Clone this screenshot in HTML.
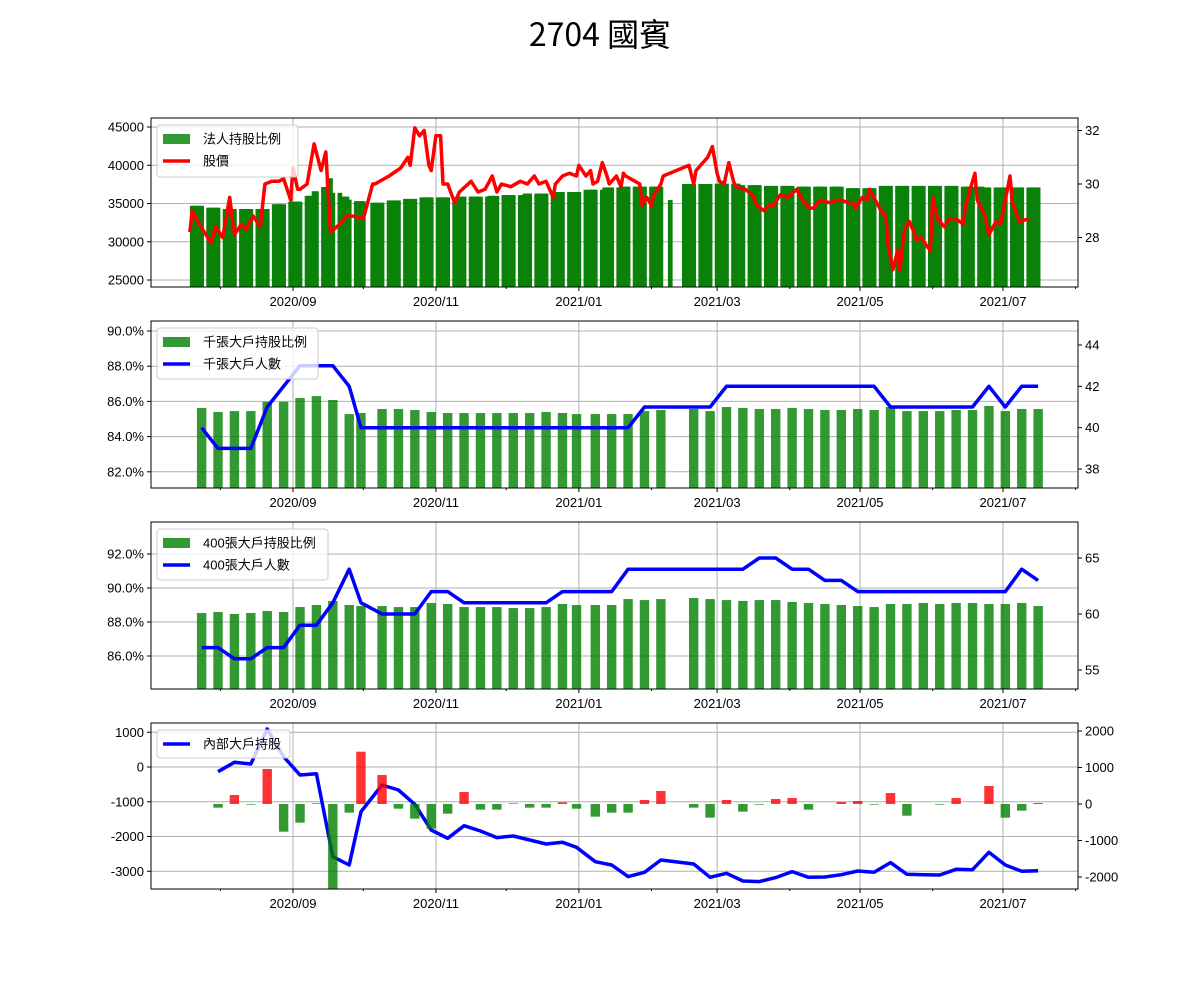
<!DOCTYPE html>
<html><head><meta charset="utf-8"><style>
html,body{margin:0;padding:0;background:#fff;}
svg{display:block;font-family:"Liberation Sans","Noto Sans CJK TC",sans-serif;}
</style></head><body>
<svg id="chart" width="1200" height="1000" viewBox="0 0 1200 1000" xmlns="http://www.w3.org/2000/svg">
<rect width="1200" height="1000" fill="#fff"/>
<text x="600" y="46" text-anchor="middle" font-size="32" font-family="'Noto Sans CJK TC',sans-serif" fill="#000">2704 國賓</text>
</svg>
<script>
// ---- data (days since 2020-09-01) ----
const priceDays=[-44,-43,-40,-35,-33,-30,-27,-25,-22,-20,-17,-14,-12,-9,-6,-4,-1,0,2,3,6,9,12,14,16,20,23,26,30,34,35,41,46,49,50,52,54,56,58,59,61,63,64,66,69,71,76,79,82,85,87,89,93,97,100,103,105,108,111,112,115,118,121,122,125,127,128,130,132,134,135,138,140,141,142,146,148,149,151,153,154,157,158,169,171,172,176,177,179,181,182,184,186,188,189,193,196,198,201,203,205,208,211,215,218,219,220,222,225,229,233,234,237,239,240,243,245,246,251,253,254,256,258,259,260,261,263,265,266,268,272,273,275,278,280,283,286,287,289,291,292,295,297,300,302,306,307,310,314,317];
const priceVals=[28.2,29.0,28.5,27.8,28.4,28.0,29.5,28.1,28.5,28.3,28.8,28.4,30.0,30.1,30.1,30.2,29.4,30.6,29.8,29.8,30.0,31.5,30.5,31.2,28.2,28.5,28.8,28.8,28.7,30.0,30.0,30.3,30.6,31.0,30.7,32.1,31.8,32.0,30.7,30.5,31.8,31.8,30.0,30.0,29.3,29.7,30.1,29.7,29.8,30.3,29.7,30.0,29.9,30.1,30.0,30.3,30.0,30.1,29.5,30.0,30.3,30.4,30.3,30.7,30.3,30.5,30.0,30.1,30.8,30.3,30.0,30.3,29.9,30.4,30.3,30.1,30.0,29.2,29.5,29.2,29.6,30.0,30.3,30.7,30.0,30.5,30.9,31.0,31.4,30.4,30.1,30.0,30.8,30.1,29.9,29.8,29.6,29.2,29.0,29.2,29.2,29.6,29.5,29.8,29.3,29.3,29.1,29.1,29.4,29.3,29.4,29.4,29.3,29.3,29.1,29.5,29.4,29.8,29.0,28.8,27.7,26.8,27.5,26.8,27.6,28.3,28.6,28.2,27.9,28.0,27.5,29.5,28.7,28.4,28.7,28.7,28.5,29.2,29.8,30.4,29.4,28.9,28.1,28.6,28.5,30.3,29.3,28.6,28.7];
const instDays=[-44,-38,-31,-9,-3,4,9,13,15,17,21,24,26,32,40,47,53,71,84,90,99,110,123,133,140,161,167,181,191,200,215,236,250,285,295];
const instVals=[34700,34450,34280,34900,35240,36000,36600,37150,38300,36400,35900,35500,35300,35100,35400,35600,35800,35900,36000,36100,36300,36500,36800,37100,37200,35450,37550,37600,37400,37300,37200,37000,37300,37200,37100];
const instEndDay=318;
const instGapDays=[31,159,160,162,163,164,165,166];
const weekDays=[-39,-32,-25,-18,-11,-4,3,10,17,24,29,38,45,52,59,66,73,80,87,94,101,108,115,121,129,136,143,150,157,171,178,185,192,199,206,213,220,227,234,241,248,255,262,269,276,283,290,297,304,311,318];
const bigPct=[85.63,85.4,85.45,85.45,85.98,85.98,86.19,86.3,86.08,85.28,85.34,85.57,85.57,85.51,85.4,85.34,85.34,85.34,85.34,85.34,85.34,85.4,85.34,85.28,85.28,85.28,85.28,85.45,85.51,85.57,85.45,85.68,85.63,85.57,85.57,85.63,85.57,85.51,85.51,85.57,85.51,85.68,85.45,85.45,85.45,85.51,85.51,85.74,85.45,85.57,85.57];
const bigCount=[40,39,39,39,41,42,43,43,43,42,40,40,40,40,40,40,40,40,40,40,40,40,40,40,40,40,40,41,41,41,41,42,42,42,42,42,42,42,42,42,42,41,41,41,41,41,41,42,41,42,42];
const midPct=[88.53,88.59,88.47,88.53,88.65,88.59,88.88,89.0,89.24,89.0,88.94,88.94,88.88,88.88,89.12,89.06,88.88,88.88,88.88,88.82,88.82,88.88,89.06,89.0,89.0,89.0,89.35,89.29,89.35,89.41,89.35,89.29,89.24,89.29,89.29,89.18,89.12,89.06,89.0,88.94,88.88,89.06,89.06,89.12,89.06,89.12,89.12,89.06,89.06,89.12,88.94];
const midCount=[57,57,56,56,57,57,59,59,61,64,61,60,60,60,62,62,61,61,61,61,61,61,62,62,62,62,64,64,64,64,64,64,64,65,65,64,64,63,63,62,62,62,62,62,62,62,62,62,62,64,63];
const insideTotal=[-134,134,86,1093,297,-230,-192,-2580,-2820,-1285,-518,-662,-1074,-1813,-2052,-1688,-1841,-2033,-1985,-2100,-2215,-2167,-2311,-2724,-2820,-3155,-3030,-2676,-2790,-3174,-3059,-3280,-3299,-3184,-3011,-3174,-3165,-3098,-2992,-3030,-2752,-3088,-3098,-3107,-2944,-2954,-2455,-2820,-3002,-2983];
const insideChange=[-100,247,-18,959,-758,-511,18,-2600,-237,1433,794,-128,-402,-676,-265,329,-155,-155,18,-100,-100,46,-128,-347,-237,-237,110,356,-100,-374,110,-210,-18,137,164,-155,0,55,82,-18,301,-320,0,-18,164,0,493,-374,-183,27];
const xTickDays=[0,61,122,181,242,303];
const xTickLabels=["2020/09","2020/11","2021/01","2021/03","2021/05","2021/07"];
const xMinorDays=[-31,30,91,153,212,273,334];
const p1LeftTicks=[25000,30000,35000,40000,45000];
const p1RightTicks=[28,30,32];
const p2LeftTicks=[82,84,86,88,90];
const p2RightTicks=[38,40,42,44];
const p3LeftTicks=[86,88,90,92];
const p3RightTicks=[55,60,65];
const p4LeftTicks=[-3000,-2000,-1000,0,1000];
const p4RightTicks=[-2000,-1000,0,1000,2000];

// ---- scales ----
const X0=151,X1=1078;
function xs(d){return 293+d*2.3432;}
const panels=[
 {top:118,bot:287,yl:v=>127+(45000-v)*0.00765,yr:v=>184-(v-30)*26.75},
 {top:321,bot:488,yl:v=>331+(90-v)*17.6,yr:v=>345+(44-v)*20.67},
 {top:522,bot:689,yl:v=>554+(92-v)*17,yr:v=>558+(65-v)*11.2},
 {top:723,bot:889,yl:v=>767-v*0.03475,yr:v=>804-v*0.0365}
];
const NS="http://www.w3.org/2000/svg";
const svg=document.getElementById('chart');
function mk(tag,attrs,parent){const e=document.createElementNS(NS,tag);for(const k in attrs)e.setAttribute(k,attrs[k]);(parent||svg).appendChild(e);return e;}

const defs=mk('defs',{});
panels.forEach((p,i)=>{const c=mk('clipPath',{id:'clip'+i},defs);mk('rect',{x:X0,y:p.top,width:X1-X0,height:p.bot-p.top},c);});

function drawFrame(i,leftTicks){
 const p=panels[i];
 const g=mk('g',{});
 
 
 xTickDays.forEach(d=>{mk('line',{x1:xs(d),x2:xs(d),y1:p.top,y2:p.bot,stroke:'#b0b0b0','stroke-width':1},g);});
 leftTicks.forEach(v=>{const y=p.yl(v);mk('line',{x1:X0,x2:X1,y1:y,y2:y,stroke:'#b0b0b0','stroke-width':1},g);});
 return g;
}
function drawAxes(i,leftTicks,leftFmt,rightTicks,rightFmt){
 const p=panels[i];
 const g=mk('g',{});
 
 
 mk('rect',{x:X0,y:p.top,width:X1-X0,height:p.bot-p.top,fill:'none',stroke:'#000','stroke-width':1},g);
 xTickDays.forEach((d,k)=>{const x=xs(d);mk('line',{x1:x,x2:x,y1:p.bot,y2:p.bot+4,stroke:'#000'},g);
   const t=mk('text',{x:x,y:p.bot+19,'text-anchor':'middle','font-size':13,fill:'#000'},g);t.textContent=xTickLabels[k];
   
   });
 xMinorDays.forEach(d=>{const x=xs(d);if(x>X0&&x<X1)mk('line',{x1:x,x2:x,y1:p.bot,y2:p.bot+2,stroke:'#000'},g);});
 leftTicks.forEach(v=>{const y=p.yl(v);mk('line',{x1:X0-4,x2:X0,y1:y,y2:y,stroke:'#000'},g);
   const t=mk('text',{x:X0-7,y:y+4.5,'text-anchor':'end','font-size':13,fill:'#000'},g);t.textContent=leftFmt(v);
   
   });
 rightTicks.forEach(v=>{const y=p.yr(v);mk('line',{x1:X1,x2:X1+4,y1:y,y2:y,stroke:'#000'},g);
   const t=mk('text',{x:X1+7,y:y+4.5,'text-anchor':'start','font-size':13,fill:'#000'},g);t.textContent=rightFmt(v);
   
   });
}
function legend(i,w,h,items){
 const p=panels[i];
 const g=mk('g',{});
 
 
 const x=157,y=p.top+7;
 mk('rect',{x:x,y:y,width:w,height:h,rx:3,fill:'#fff','fill-opacity':0.8,stroke:'#cccccc'},g);
 items.forEach((it,k)=>{const cy=y+14+k*22;
  if(it.type==='bar')mk('rect',{x:x+6,y:cy-5,width:27,height:10,fill:it.color,'fill-opacity':0.8},g);
  else mk('line',{x1:x+6,x2:x+33,y1:cy,y2:cy,stroke:it.color,'stroke-width':3.5},g);
  const t=mk('text',{x:x+46,y:cy+4.5,'font-size':13,fill:'#000'},g);t.textContent=it.label;
  
  
 });
}
function pathFrom(days,vals,yf){return days.map((d,k)=>(k?'L':'M')+xs(d).toFixed(1)+','+yf(vals[k]).toFixed(1)).join('');}
function valAt(days,vals,d){let v=null;for(let k=0;k<days.length;k++){if(d>=days[k])v=vals[k];}return v;}

const commas=v=>String(v);
const pct=v=>v.toFixed(1)+'%';
const num=v=>String(v);

// ---------- Panel 1 ----------
drawFrame(0,p1LeftTicks);
{const p=panels[0];const g=mk('g',{'clip-path':'url(#clip0)'});
 
 
 for(let d=instDays[0];d<=instEndDay;d++){
  const dow=((d+2)%7+7)%7; if(dow===0||dow===6)continue;
  if(instGapDays.indexOf(d)>=0)continue;
  const v=valAt(instDays,instVals,d);const y=p.yl(v);
  const r=mk('rect',{x:xs(d)-2.35,y:y,width:4.7,height:p.bot-y,fill:'#0a820a'},g);
  
  
 }
 const l=mk('path',{d:pathFrom(priceDays,priceVals,p.yr),fill:'none',stroke:'#ff0000','stroke-width':3.5,'stroke-linejoin':'round'},g);
 
 
}
drawAxes(0,p1LeftTicks,commas,p1RightTicks,num);
legend(0,141,52,[{type:'bar',color:'#008000',label:'法人持股比例'},{type:'line',color:'#ff0000',label:'股價'}]);

// ---------- Panel 2 & 3 ----------
function weeklyPanel(i,pcts,counts,lt,rt,name){
 const p=panels[i];
 drawFrame(i,lt);
 const g=mk('g',{'clip-path':'url(#clip'+i+')'});
 
 
 weekDays.forEach((d,k)=>{const y=p.yl(pcts[k]);
  const r=mk('rect',{x:xs(d)-4.7,y:y,width:9.4,height:p.bot-y,fill:'#008000','fill-opacity':0.8},g);
  
  });
 const l=mk('path',{d:pathFrom(weekDays,counts,p.yr),fill:'none',stroke:'#0000ff','stroke-width':3.5,'stroke-linejoin':'round'},g);
 
 
 drawAxes(i,lt,pct,rt,num);
}
weeklyPanel(1,bigPct,bigCount,p2LeftTicks,p2RightTicks,'thousand-lot');
legend(1,161,51,[{type:'bar',color:'#008000',label:'千張大戶持股比例'},{type:'line',color:'#0000ff',label:'千張大戶人數'}]);
weeklyPanel(2,midPct,midCount,p3LeftTicks,p3RightTicks,'four-hundred-lot');
legend(2,171,51,[{type:'bar',color:'#008000',label:'400張大戶持股比例'},{type:'line',color:'#0000ff',label:'400張大戶人數'}]);

// ---------- Panel 4 ----------
drawFrame(3,p4LeftTicks);
{const p=panels[3];const g=mk('g',{'clip-path':'url(#clip3)'});
 
 
 const days=weekDays.slice(1);
 const l=mk('path',{d:pathFrom(days,insideTotal,p.yl),fill:'none',stroke:'#0000ff','stroke-width':3.5,'stroke-linejoin':'round'},g);
 
 
 days.forEach((d,k)=>{const v=insideChange[k];if(v===0)return;const y0=p.yr(0),y1=p.yr(v);
  const r=mk('rect',{x:xs(d)-4.7,y:Math.min(y0,y1),width:9.4,height:Math.abs(y1-y0),fill:v>0?'#ff0000':'#008000','fill-opacity':0.8},g);
  
  });
}
drawAxes(3,p4LeftTicks,num,p4RightTicks,num);
legend(3,133,28,[{type:'line',color:'#0000ff',label:'內部大戶持股'}]);
</script>
</body></html>
